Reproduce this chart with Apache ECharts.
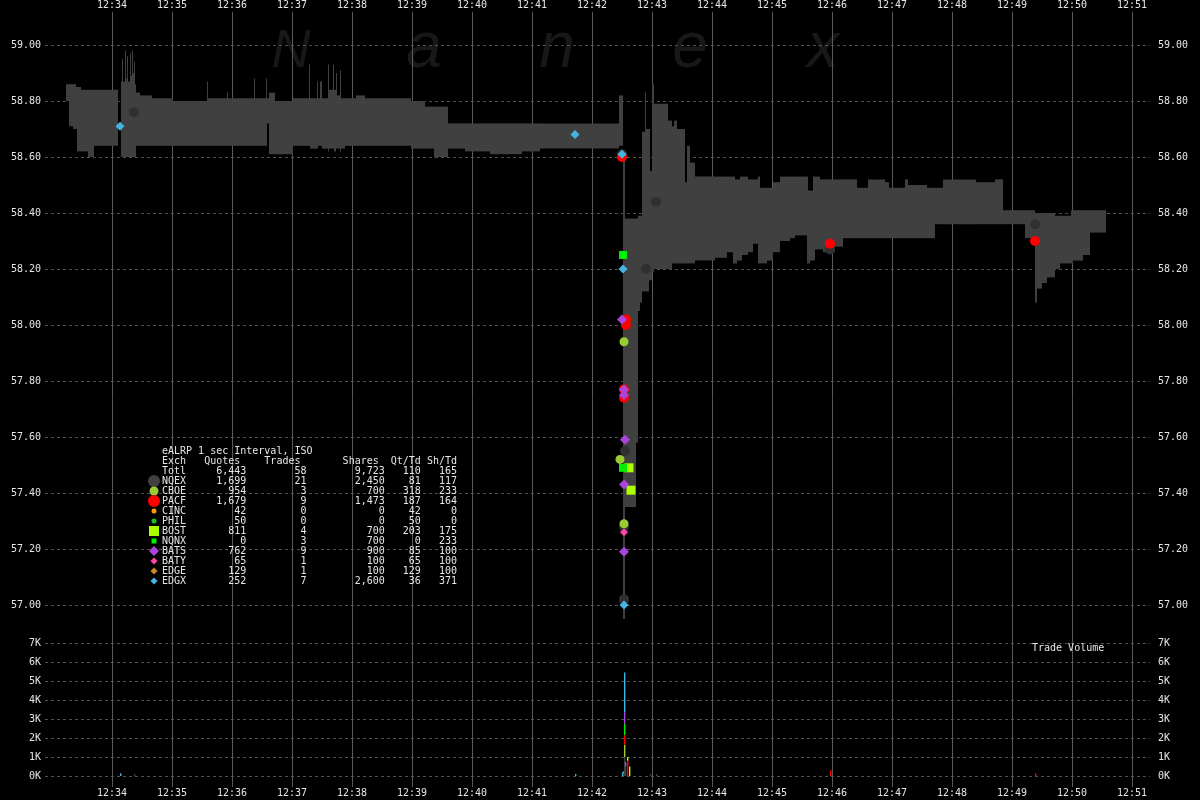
<!DOCTYPE html>
<html>
<head>
<meta charset="utf-8">
<script src="https://cdn.jsdelivr.net/npm/echarts@6/dist/echarts.min.js"></script>
<style>
html,body{margin:0;padding:0;background:#000;}
#chart{width:1200px;height:800px;}
</style>
</head>
<body>
<div id="chart"></div>
<script>
// ---- time is seconds after 12:34:00 ----
const tickTimes = [0,60,120,180,240,300,360,420,480,540,600,660,720,780,840,900,960,1020];
const priceTicks = [57.0,57.2,57.4,57.6,57.8,58.0,58.2,58.4,58.6,58.8,59.0];

// ---- quote band (bid/ask), each step lasts until the next start ----
const bandT = [-46,-43,-39,-36,-35,-31,-24,-18,6,9,10,11,13,14,15,16,18,19,20,21,22,23,24,28,40,61,95,96,115,116,142,143,154,155,157,163,181,197,198,205,206,208,210,216,217,221,222,224,225,228,229,233,244,253,299,313,322,336,353,378,410,428,507,511,513,524,526,528,530,533,534,537,538,540,542,556,560,562,565,573,575,578,583,603,615,621,623,625,628,630,636,641,646,648,655,661,668,678,683,695,696,698,701,703,708,711,723,731,745,756,773,777,793,796,815,823,831,864,883,891,913,923,925,930,935,943,948,959,961,971,978];
const bandBid = [58.80,58.71,58.70,58.70,58.62,58.62,58.60,58.64,null,58.60,58.60,58.60,58.60,58.60,58.60,58.60,58.60,58.60,58.60,58.60,58.60,58.60,58.64,58.64,58.64,58.64,58.64,58.64,58.64,58.64,58.64,58.64,58.64,58.72,58.61,58.61,58.64,58.64,58.63,58.63,58.64,58.64,58.63,58.62,58.63,58.63,58.62,58.63,58.63,58.62,58.63,58.64,58.64,58.64,58.63,58.63,58.60,58.63,58.62,58.61,58.62,58.63,58.64,56.95,57.35,57.58,58.05,58.08,58.12,58.12,58.12,58.16,58.16,58.19,58.20,58.20,58.22,58.22,58.22,58.22,58.22,58.22,58.23,58.24,58.26,58.22,58.22,58.23,58.23,58.25,58.26,58.29,58.22,58.22,58.23,58.26,58.30,58.31,58.32,58.22,58.22,58.23,58.23,58.27,58.27,58.26,58.28,58.31,58.31,58.31,58.31,58.31,58.31,58.31,58.31,58.36,58.36,58.36,58.36,58.36,58.31,58.08,58.13,58.15,58.17,58.20,58.22,58.22,58.23,58.25,58.33];
const bandAsk = [58.86,58.86,58.86,58.85,58.85,58.84,58.84,58.84,null,58.87,58.95,58.87,58.98,58.88,58.96,58.87,58.97,58.89,58.98,58.90,58.94,58.86,58.83,58.82,58.81,58.80,58.87,58.81,58.83,58.81,58.88,58.81,58.88,58.81,58.83,58.80,58.81,58.93,58.81,58.87,58.81,58.87,58.81,58.93,58.84,58.93,58.84,58.90,58.82,58.91,58.81,58.81,58.82,58.81,58.80,58.78,58.78,58.72,58.72,58.72,58.72,58.72,58.82,58.61,58.38,58.38,58.39,58.39,58.69,58.83,58.70,58.70,58.55,58.86,58.79,58.73,58.71,58.73,58.70,58.51,58.64,58.58,58.53,58.53,58.53,58.53,58.52,58.52,58.53,58.53,58.52,58.52,58.53,58.49,58.49,58.51,58.53,58.53,58.53,58.53,58.48,58.48,58.53,58.53,58.52,58.52,58.52,58.52,58.49,58.52,58.51,58.49,58.52,58.50,58.49,58.49,58.52,58.51,58.52,58.41,58.41,58.40,58.40,58.40,58.40,58.39,58.39,58.41,58.41,58.41,58.41];
const bandEnd = 994;

// ---- exchanges and summary table ----
const exchanges = ['NQEX','CBOE','PACF','CINC','PHIL','BOST','NQNX','BATS','BATY','EDGE','EDGX'];
const quotes    = [1699,954,1679,42,50,811,0,762,65,129,252];
const tradesN   = [21,3,9,0,0,4,3,9,1,1,7];
const shares    = [2450,700,1473,0,0,700,700,900,100,100,2600];
const qtPerTd   = [81,318,187,42,50,203,0,85,65,129,36];
const shPerTd   = [117,233,164,0,0,175,233,100,100,100,371];
const totalRow  = [6443,58,9723,110,165];

// ---- trades (price panel) ----
const tradeExch  = ['NQEX','NQEX','NQEX','NQEX','NQEX','NQEX','NQEX','NQEX','NQEX',
                    'CBOE','CBOE','CBOE',
                    'PACF','PACF','PACF','PACF','PACF','PACF','PACF',
                    'BOST','BOST','NQNX','NQNX',
                    'BATS','BATS','BATS','BATS','BATS','BATS','BATY',
                    'EDGX','EDGX','EDGX','EDGX','EDGX'];
const tradeTime  = [22,510,513,512,512,534,544,718,923,
                    512,508,512,
                    510,514,514,512,512,718,923,
                    517,519,511,511,
                    510,512,512,513,512,512,512,
                    8,463,510,511,512];
const tradePrice = [58.76,58.61,57.55,57.28,57.02,58.20,58.44,58.27,58.36,
                    57.94,57.52,57.29,
                    58.60,58.02,58.00,57.77,57.74,58.29,58.30,
                    57.49,57.41,58.25,57.49,
                    58.02,57.77,57.75,57.59,57.43,57.19,57.26,
                    58.71,58.68,58.61,58.20,57.00];

// ---- trade volume (stacked in listed order at each time) ----
const volTime   = [8,22,463,510,511,511,512,512,512,512,512,512,513,513,515,515,517,538,544,718,923];
const volExch   = ['EDGX','NQEX','EDGX','EDGX','PACF','NQNX','NQEX','CBOE','PACF','NQNX','BATS','EDGX','NQEX','BATS','PACF','BOST','BOST','NQEX','NQEX','PACF','PACF'];
const volShares = [150,100,100,200,150,100,1000,650,500,600,600,2100,500,250,800,200,500,100,100,300,150];

// ---- styles ----
const exColor  = {NQEX:'#404040',CBOE:'#99cc33',PACF:'#ff0000',CINC:'#ff9900',PHIL:'#22bb22',BOST:'#aaff00',NQNX:'#00ee00',BATS:'#aa44dd',BATY:'#ff44aa',EDGE:'#cc8822',EDGX:'#44b4e4'};
const exSymbol = {NQEX:'circle',CBOE:'circle',PACF:'circle',CINC:'circle',PHIL:'circle',BOST:'rect',NQNX:'rect',BATS:'diamond',BATY:'diamond',EDGE:'diamond',EDGX:'diamond'};
const exSize   = {NQEX:10,CBOE:9,PACF:10,CINC:5,PHIL:5,BOST:9,NQNX:8,BATS:10,BATY:8,EDGE:8,EDGX:9};
const legendSize = {NQEX:12,CBOE:9,PACF:12,CINC:5,PHIL:5,BOST:10,NQNX:5,BATS:10,BATY:7,EDGE:7,EDGX:7};

const X_MIN = -67, X_MAX = 1038;
const MONO = '"DejaVu Sans Mono", "Liberation Mono", monospace';
const TXT = '#e6e6e6';

function fmtTime(v){ return '12:' + String(34 + Math.round(v/60)).padStart(2,'0'); }
function fmtNum(n){ return n.toLocaleString('en-US'); }

// band data
const bandData = [];
for (let i = 0; i < bandT.length; i++) {
  if (bandBid[i] == null) continue;
  const t1 = i + 1 < bandT.length ? bandT[i+1] : bandEnd;
  bandData.push([bandT[i], t1, bandBid[i], bandAsk[i]]);
}
// volume stacks
const volData = [];
const stackTop = {};
for (let i = 0; i < volTime.length; i++) {
  const base = stackTop[volTime[i]] || 0;
  const top = base + volShares[i];
  stackTop[volTime[i]] = top;
  volData.push([volTime[i], base, top, exchanges.indexOf(volExch[i])]);
}

const fontStyle = {fontFamily: MONO, fontSize: 10, color: TXT};
const dashed = {show:true, lineStyle:{color:'#505050', width:1, type:[3,3]}};

const series = [];
series.push({
  type:'custom', name:'band', xAxisIndex:2, yAxisIndex:1, z:2, clip:true,
  data: bandData, encode:{x:[0,1], y:[2,3]},
  renderItem: function(params, api){
    const a = api.coord([api.value(0), api.value(3)]);
    const b = api.coord([api.value(1), api.value(2)]);
    return {type:'rect', shape:{x:a[0], y:a[1], width:b[0]-a[0], height:Math.max(1, b[1]-a[1])},
            style:{fill:'#404040'}};
  }
});
exchanges.forEach(function(ex){
  const pts = [];
  for (let i = 0; i < tradeExch.length; i++) if (tradeExch[i] === ex) pts.push([tradeTime[i], tradePrice[i]]);
  series.push({
    type:'scatter', name:ex, xAxisIndex:2, yAxisIndex:1, z:4,
    symbol: exSymbol[ex], symbolSize: exSize[ex],
    itemStyle:{color: ex === 'NQEX' ? '#303030' : exColor[ex], opacity:1},
    data: pts, silent:true
  });
});
series.push({
  type:'custom', name:'volume', xAxisIndex:3, yAxisIndex:3, z:3,
  data: volData, encode:{x:0, y:[1,2]},
  renderItem: function(params, api){
    const a = api.coord([api.value(0), api.value(2)]);
    const b = api.coord([api.value(0), api.value(1)]);
    return {type:'rect', shape:{x:Math.floor(a[0]), y:a[1], width:1.4, height:b[1]-a[1]},
            style:{fill: exColor[exchanges[api.value(3)]]}};
  }
});

// legend table + decorations
const graphics = [];
const wm = [['N',291,54,79],['a',424,64,81],['n',557,64,81],['e',690,64,81],['x',823,64,81]];
wm.forEach(function(w){
  graphics.push({type:'text', z:-1, silent:true, x:w[1], y:w[3],
    style:{text:w[0], font:'italic ' + w[2] + 'px "Liberation Sans", Arial, sans-serif', fill:'#181818', align:'center', verticalAlign:'bottom'}});
});
const LX = 162, LY = 451;
const lines = [];
lines.push('eALRP 1 sec Interval, ISO');
lines.push('Exch' + 'Quotes'.padStart(9) + 'Trades'.padStart(10) + 'Shares'.padStart(13) + 'Qt/Td'.padStart(7) + 'Sh/Td'.padStart(6));
lines.push('Totl' + fmtNum(totalRow[0]).padStart(10) + String(totalRow[1]).padStart(10) + fmtNum(totalRow[2]).padStart(13) + String(totalRow[3]).padStart(6) + String(totalRow[4]).padStart(6));
exchanges.forEach(function(ex, i){
  lines.push(ex + fmtNum(quotes[i]).padStart(10) + String(tradesN[i]).padStart(10) + fmtNum(shares[i]).padStart(13) + String(qtPerTd[i]).padStart(6) + String(shPerTd[i]).padStart(6));
});
lines.forEach(function(s, i){
  graphics.push({type:'text', z:10, silent:true, x:LX, y:LY + i*10,
    style:{text:s, font:'10px ' + MONO, fill:TXT, align:'left', verticalAlign:'middle'}});
});
exchanges.forEach(function(ex, i){
  const cx = 154, cy = LY + (i+3)*10, s = legendSize[ex], c = exColor[ex];
  let el;
  if (exSymbol[ex] === 'circle') el = {type:'circle', shape:{cx:cx, cy:cy, r:s/2}};
  else if (exSymbol[ex] === 'rect') el = {type:'rect', shape:{x:cx-s/2, y:cy-s/2, width:s, height:s}};
  else el = {type:'polygon', shape:{points:[[cx,cy-s/2],[cx+s/2,cy],[cx,cy+s/2],[cx-s/2,cy]]}};
  el.style = {fill:c}; el.z = 10; el.silent = true;
  graphics.push(el);
});
graphics.push({type:'text', z:10, silent:true, x:1032, y:648,
  style:{text:'Trade Volume', font:'10px ' + MONO, fill:TXT, align:'left', verticalAlign:'middle'}});

const option = {
  backgroundColor:'#000',
  animation:false,
  grid:[
    {left:45, right:50, top:12, bottom:13, show:false},
    {left:45, right:50, top:17, height:616, show:false},
    {left:45, right:50, top:643, height:133, show:false}
  ],
  xAxis:[
    {type:'value', gridIndex:0, min:X_MIN, max:X_MAX, position:'top',
     axisLine:{show:false}, axisTick:{show:false, customValues:tickTimes},
     axisLabel:Object.assign({customValues:tickTimes, formatter:fmtTime, margin:2}, fontStyle),
     splitLine:{show:true, lineStyle:{color:'#5a5a5a', width:1}}},
    {type:'value', gridIndex:0, min:X_MIN, max:X_MAX, position:'bottom',
     axisLine:{show:false}, axisTick:{show:false, customValues:tickTimes},
     axisLabel:Object.assign({customValues:tickTimes, formatter:fmtTime, margin:1}, fontStyle),
     splitLine:{show:false}},
    {type:'value', gridIndex:1, min:X_MIN, max:X_MAX, show:false},
    {type:'value', gridIndex:2, min:X_MIN, max:X_MAX, show:false}
  ],
  yAxis:[
    {type:'value', gridIndex:0, min:0, max:1, show:false},
    {type:'value', gridIndex:1, min:56.9, max:59.1, position:'left',
     axisLine:{show:false}, axisTick:{show:false, customValues:priceTicks},
     axisLabel:Object.assign({customValues:priceTicks, formatter:function(v){return v.toFixed(2);}, margin:4}, fontStyle),
     splitLine:dashed},
    {type:'value', gridIndex:1, min:56.9, max:59.1, position:'right',
     axisLine:{show:false}, axisTick:{show:false, customValues:priceTicks},
     axisLabel:Object.assign({customValues:priceTicks, formatter:function(v){return v.toFixed(2);}, margin:8}, fontStyle),
     splitLine:{show:false}},
    {type:'value', gridIndex:2, min:0, max:7000, interval:1000, position:'left',
     axisLine:{show:false}, axisTick:{show:false},
     axisLabel:Object.assign({formatter:function(v){return (v/1000) + 'K';}, margin:4}, fontStyle),
     splitLine:dashed},
    {type:'value', gridIndex:2, min:0, max:7000, interval:1000, position:'right',
     axisLine:{show:false}, axisTick:{show:false},
     axisLabel:Object.assign({formatter:function(v){return (v/1000) + 'K';}, margin:8}, fontStyle),
     splitLine:{show:false}}
  ],
  graphic:{elements:graphics},
  series:series
};
const chart = echarts.init(document.getElementById('chart'), null, {renderer:'canvas'});
chart.setOption(option);
</script>
</body>
</html>
